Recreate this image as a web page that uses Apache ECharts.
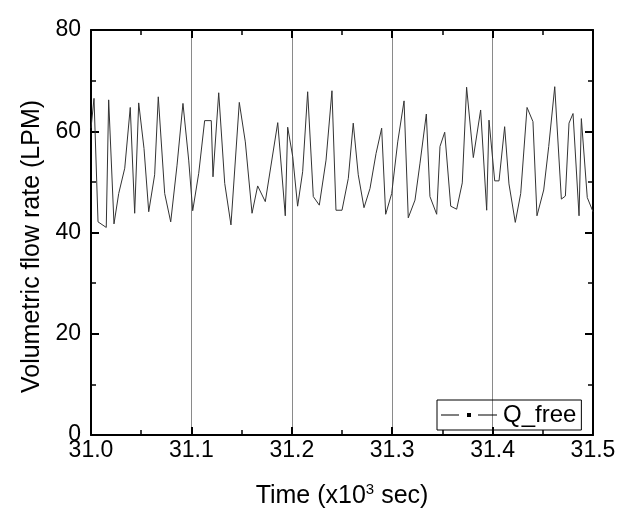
<!DOCTYPE html>
<html>
<head>
<meta charset="utf-8">
<script src="https://cdn.jsdelivr.net/npm/echarts@6/dist/echarts.min.js"></script>
<style>
html,body{margin:0;padding:0;background:#fff;}
#chart{width:631px;height:529px;}
</style>
</head>
<body>
<div id="chart"></div>
<script>
const seriesName = 'Q_free';
const xTickLabels = ['31.0','31.1','31.2','31.3','31.4','31.5'];
const yTickLabels = ['0','20','40','60','80'];
const time = [
31.0000,31.0030,31.0070,31.0152,31.0176,31.0229,31.0276,31.0336,31.0391,31.0435,
31.0475,31.0528,31.0575,31.0634,31.0670,31.0734,31.0794,31.0857,31.0916,31.0973,
31.1013,31.1073,31.1132,31.1198,31.1215,31.1272,31.1332,31.1394,31.1477,31.1537,
31.1604,31.1660,31.1736,31.1860,31.1935,31.1959,31.2009,31.2058,31.2108,31.2158,
31.2214,31.2274,31.2341,31.2400,31.2440,31.2500,31.2563,31.2612,31.2662,31.2719,
31.2779,31.2839,31.2895,31.2935,31.2995,31.3055,31.3118,31.3160,31.3227,31.3277,
31.3340,31.3376,31.3443,31.3476,31.3523,31.3583,31.3642,31.3698,31.3741,31.3808,
31.3881,31.3941,31.3964,31.4021,31.4064,31.4120,31.4163,31.4226,31.4280,31.4343,
31.4402,31.4442,31.4509,31.4559,31.4619,31.4685,31.4725,31.4761,31.4801,31.4861,
31.4884,31.4943,31.5000
];
const flow = [
60.6,66.5,42.1,41.0,66.2,41.7,47.7,52.7,64.7,43.8,
65.6,56.6,44.1,51.4,66.8,47.7,42.1,53.3,65.5,54.3,
44.3,51.7,62.1,62.1,51.0,67.6,49.7,41.5,65.7,57.9,
43.8,49.2,46.1,61.7,43.3,60.8,55.0,45.2,52.0,67.8,
47.1,45.4,54.3,68.0,44.4,44.4,50.7,61.6,51.4,44.9,
48.7,55.6,60.6,43.6,47.7,57.9,66.0,42.9,46.4,53.7,
63.4,47.1,43.6,57.0,59.8,45.2,44.6,49.8,68.7,54.8,
64.2,44.4,62.2,50.2,50.2,60.9,49.6,42.0,47.7,64.7,
61.9,43.3,48.4,57.0,68.8,46.6,47.2,61.6,63.5,43.3,
62.5,46.9,44.1
];

const data = time.map((t, i) => [t, flow[i]]);
const FONT = '"Liberation Sans", Arial, sans-serif';

const chart = echarts.init(document.getElementById('chart'), null, {renderer: 'canvas'});
const axisLine = {show: true, onZero: false, lineStyle: {color: '#000', width: 2}};
chart.setOption({
  animation: false,
  backgroundColor: '#fff',
  textStyle: {fontFamily: FONT},
  grid: {left: 91, right: 38, top: 30, bottom: 94, containLabel: false},
  legend: {
    left: 437, top: 400,
    orient: 'horizontal',
    padding: [3, 5, 3, 4],
    borderColor: '#000', borderWidth: 1,
    itemWidth: 56, itemHeight: 4,
    data: [{name: seriesName, icon: 'path://M0,1.5h18v1H0z M26,0h4v4h-4z M37,1.5h19v1h-19z'}],
    itemStyle: {color: '#000', borderWidth: 0},
    lineStyle: {width: 0, opacity: 0},
    textStyle: {fontSize: 24, color: '#000', fontFamily: FONT, padding: [0, 0, 0, 1]}
  },
  xAxis: [{
    type: 'value', position: 'bottom', min: 31.0, max: 31.5, interval: 0.1,
    name: 'Time (x10{sup|3} sec)', nameLocation: 'middle', nameGap: 47,
    nameTextStyle: {fontSize: 25, color: '#000', fontFamily: FONT,
      rich: {sup: {fontSize: 15, color: '#000', fontFamily: FONT, verticalAlign: 'top', padding: [0, 0, 13, 0]}}},
    axisLine: axisLine,
    axisTick: {show: true, inside: true, length: 8, lineStyle: {color: '#000', width: 2}},
    minorTick: {show: true, splitNumber: 2, length: 5, lineStyle: {color: '#000', width: 1.5}},
    axisLabel: {fontSize: 23, color: '#000', margin: 4, fontFamily: FONT,
      formatter: (v) => { const i = Math.round((v - 31.0) / 0.1); return xTickLabels[i] ?? ''; }},
    splitLine: {show: true, lineStyle: {color: '#8a8a8a', width: 1}}
  }, {
    type: 'value', position: 'top', min: 31.0, max: 31.5, interval: 0.1,
    axisLine: axisLine,
    axisTick: {show: true, inside: true, length: 8, lineStyle: {color: '#000', width: 2}},
    minorTick: {show: true, splitNumber: 2, length: 5, lineStyle: {color: '#000', width: 1.5}},
    axisLabel: {show: false}, splitLine: {show: false}
  }],
  yAxis: [{
    type: 'value', position: 'left', min: 0, max: 80, interval: 20,
    name: 'Volumetric flow rate (LPM)', nameLocation: 'middle', nameGap: 45, nameRotate: 90,
    nameTextStyle: {fontSize: 25, color: '#000', fontFamily: FONT, padding: [0, 28, 0, 0]},
    axisLine: axisLine,
    axisTick: {show: true, inside: true, length: 8, lineStyle: {color: '#000', width: 2}},
    minorTick: {show: true, splitNumber: 2, length: 5, lineStyle: {color: '#000', width: 1.5}},
    axisLabel: {fontSize: 23, color: '#000', margin: 10, fontFamily: FONT,
      formatter: (v) => yTickLabels[Math.round(v / 20)] ?? ''},
    splitLine: {show: false}
  }, {
    type: 'value', position: 'right', min: 0, max: 80, interval: 20,
    axisLine: axisLine,
    axisTick: {show: true, inside: true, length: 8, lineStyle: {color: '#000', width: 2}},
    minorTick: {show: true, splitNumber: 2, length: 5, lineStyle: {color: '#000', width: 1.5}},
    axisLabel: {show: false}, splitLine: {show: false}
  }],
  series: [{
    name: seriesName, type: 'line', xAxisIndex: 0, yAxisIndex: 0,
    data: data, showSymbol: false, symbol: 'none',
    lineStyle: {color: '#333', width: 1}, itemStyle: {color: '#000'}
  }]
});
</script>
</body>
</html>
